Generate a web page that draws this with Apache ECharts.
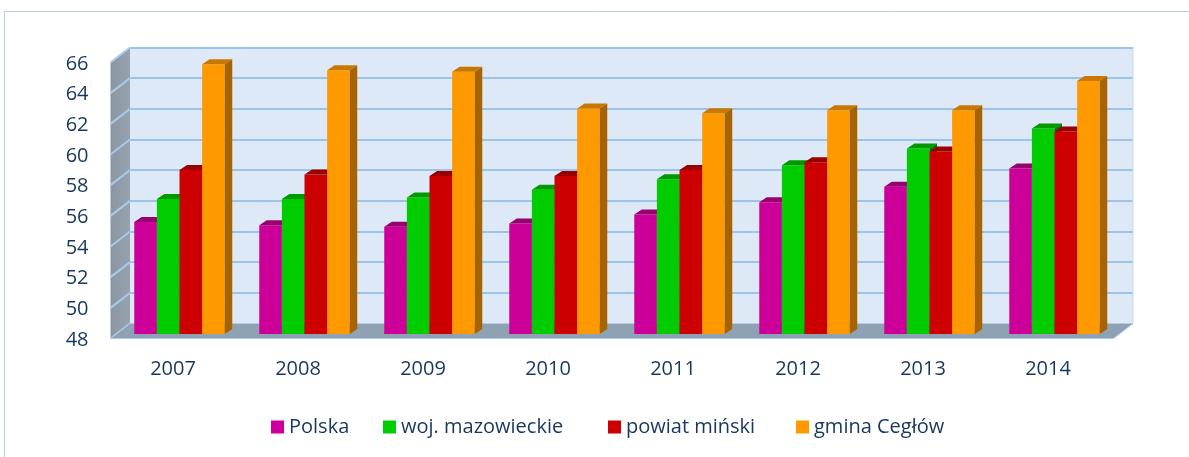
<!DOCTYPE html>
<html>
<head>
<meta charset="utf-8">
<script src="https://cdn.jsdelivr.net/npm/echarts@6/dist/echarts.min.js"></script>
<style>
  html, body { margin: 0; padding: 0; background: #fff; }
  #chart { width: 1189px; height: 457px; }
</style>
</head>
<body>
<div id="chart"></div>
<script>
// dane z wykresu
const years = ['2007', '2008', '2009', '2010', '2011', '2012', '2013', '2014'];
const seriesNames = ['Polska', 'woj. mazowieckie', 'powiat miński', 'gmina Cegłów'];
const polska = [55.3, 55.1, 55.0, 55.2, 55.8, 56.6, 57.6, 58.8];
const mazowieckie = [56.8, 56.8, 56.9, 57.4, 58.1, 59.0, 60.1, 61.4];
const powiat = [58.7, 58.4, 58.3, 58.3, 58.7, 59.2, 59.9, 61.2];
const ceglow = [65.6, 65.2, 65.1, 62.7, 62.4, 62.6, 62.6, 64.5];
const yMin = 48, yMax = 66, yStep = 2;

const values = [polska, mazowieckie, powiat, ceglow];
const front = ['#cc0099', '#00cc00', '#cc0000', '#ff9900'];
const topCol = ['#99006f', '#009900', '#990000', '#c87800'];
const sideCol = ['#80005e', '#007a00', '#7a0000', '#a66300'];
// pozycje legendy (lewa krawedz ikon)
const legendLeft = [271, 383, 608, 796];

const FONT = '"Open Sans", "DejaVu Sans", sans-serif';
const TXT = '#17375e';
// przesuniecie glebokosci (perspektywa)
const DX = 19.5, DY = 15;
const BAR_DX = 7.5, BAR_DY = 5;

const chart = echarts.init(document.getElementById('chart'));

function yAxisCfg(idx, showLabels) {
  return {
    type: 'value', gridIndex: idx, min: yMin, max: yMax, interval: yStep,
    axisLine: { show: false }, axisTick: { show: false },
    axisLabel: showLabels ? { color: TXT, fontSize: 20, fontFamily: FONT, margin: 22 } : { show: false },
    splitLine: idx === 1 ? { lineStyle: { color: '#9dc3e6', width: 2 } } : { show: false }
  };
}
function xAxisCfg(idx, showLabels) {
  return {
    type: 'category', gridIndex: idx, data: years,
    axisLine: { show: false }, axisTick: { show: false }, splitLine: { show: false },
    axisLabel: showLabels ? { color: TXT, fontSize: 20, fontFamily: FONT, margin: 19 } : { show: false }
  };
}

function renderBar(si) {
  return function (params, api) {
    const idx = api.value(0);
    const top = api.coord([idx, api.value(1)]);
    const base = api.coord([idx, yMin]);
    const band = api.size([1, 0])[0];
    const w = band * 0.181;
    const x0 = top[0] - 2 * w + si * w;
    const yT = top[1], yB = base[1];
    return {
      type: 'group',
      children: [
        { type: 'rect', shape: { x: x0, y: yT, width: w, height: yB - yT }, style: { fill: front[si] } },
        { type: 'polygon', shape: { points: [[x0, yT], [x0 + BAR_DX, yT - BAR_DY], [x0 + w + BAR_DX, yT - BAR_DY], [x0 + w, yT]] }, style: { fill: topCol[si] } },
        { type: 'polygon', shape: { points: [[x0 + w, yT], [x0 + w + BAR_DX, yT - BAR_DY], [x0 + w + BAR_DX, yB - BAR_DY], [x0 + w, yB]] }, style: { fill: sideCol[si] } }
      ]
    };
  };
}

const series = values.map((arr, si) => ({
  name: seriesNames[si],
  type: 'custom',
  xAxisIndex: 2, yAxisIndex: 2,
  itemStyle: { color: front[si] },
  renderItem: renderBar(si),
  encode: { x: 0, y: 1 },
  data: arr.map((v, i) => [i, v]),
  z: 5
}));

const legends = seriesNames.map((n, i) => ({
  left: legendLeft[i], top: 417, padding: 0, itemWidth: 13, itemHeight: 13,
  icon: 'rect', data: [n],
  textStyle: { color: TXT, fontSize: 20, fontFamily: FONT }
}));

chart.setOption({
  animation: false,
  backgroundColor: '#fff',
  grid: [
    { left: 110.5, top: 64, width: 1000, height: 276 },                         // przod (etykiety)
    { left: 130, top: 47.5, width: 1003, height: 276, show: true,
      backgroundColor: '#dde9f7', borderWidth: 0 },                              // tylna sciana
    { left: 117, top: 58, width: 1000, height: 276 }                             // slupki
  ],
  xAxis: [xAxisCfg(0, true), xAxisCfg(1, false), xAxisCfg(2, false)],
  yAxis: [yAxisCfg(0, true), yAxisCfg(1, false), yAxisCfg(2, false)],
  legend: legends,
  series: series
});

// sciana boczna, podloga, ramka
(function () {
  const bx0 = 130, bx1 = 1133;
  const by0 = chart.convertToPixel({ yAxisIndex: 1 }, yMax);
  const by1 = chart.convertToPixel({ yAxisIndex: 1 }, yMin);
  const g = [];
  g.push({ type: 'rect', shape: { x: 4.5, y: 11.5, width: 1300, height: 500 },
    style: { fill: 'none', stroke: '#b9cde5', lineWidth: 1 }, z: 0 });
  g.push({ type: 'polygon', z: 1,
    shape: { points: [[bx0 - DX, by0 + DY], [bx0, by0], [bx0, by1], [bx0 - DX, by1 + DY]] },
    style: { fill: new echarts.graphic.LinearGradient(0, 0, 1, 0, [
      { offset: 0, color: '#8a97a3' }, { offset: 1, color: '#96a3ae' }]) } });
  for (let v = yMin; v <= yMax; v += yStep) {
    const y = chart.convertToPixel({ yAxisIndex: 1 }, v);
    g.push({ type: 'line', z: 2, shape: { x1: bx0 - DX, y1: y + DY, x2: bx0, y2: y },
      style: { stroke: '#a9c8ea', lineWidth: 2 } });
  }
  g.push({ type: 'polygon', z: 2,
    shape: { points: [[bx0 - DX, by1 + DY], [bx1 - DX, by1 + DY], [bx1, by1], [bx0, by1]] },
    style: { fill: '#8fa2b4', stroke: '#b3cbe6', lineWidth: 1 } });
  g.push({ type: 'line', z: 2, shape: { x1: bx1, y1: by0, x2: bx1, y2: by1 },
    style: { stroke: '#c5d9ef', lineWidth: 1 } });
  chart.setOption({ graphic: g });
})();
</script>
</body>
</html>
